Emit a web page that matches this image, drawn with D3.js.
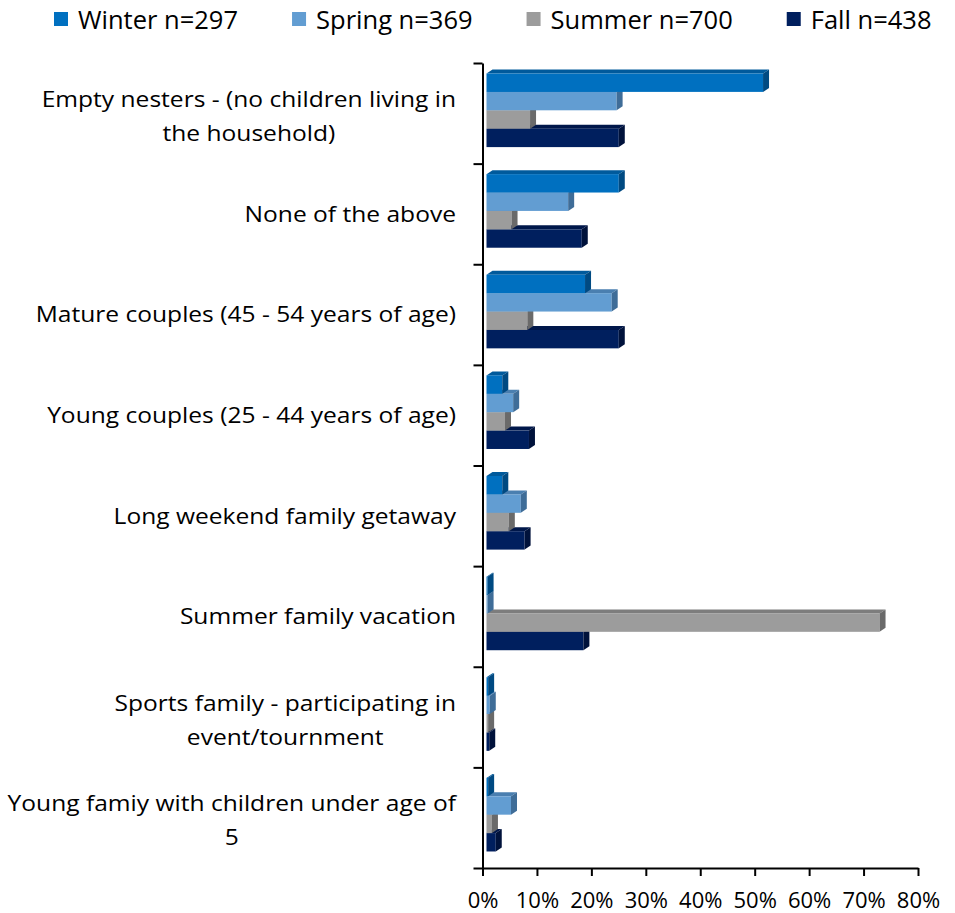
<!DOCTYPE html>
<html>
<head>
<meta charset="utf-8">
<script src="https://cdn.jsdelivr.net/npm/d3@7"></script>
<style>
  body { margin: 0; background: #fff; }
  svg { display: block; font-family: "Open Sans", sans-serif; }
</style>
</head>
<body>
<div id="chart"></div>
<script>
// category labels, already broken into lines as in the original
var categoryLines = [
    ["Empty nesters - (no children living in", "the household)"],
    ["None of the above"],
    ["Mature couples (45 - 54 years of age)"],
    ["Young couples (25 - 44 years of age)"],
    ["Long weekend family getaway"],
    ["Summer family vacation"],
    ["Sports family - participating in", "event/tournment"],
    ["Young famiy with children under age of", "5"]
];
var categories = categoryLines.map(function(l) { return l.join(" "); });

var seasons = ["Winter n=297", "Spring n=369", "Summer n=700", "Fall n=438"];

// percent of respondents
var winter = [50.8, 24.3, 18.1, 2.9, 2.9, 0.2, 0.3, 0.3];
var spring = [23.9, 15.0, 23.0, 4.9, 6.3, 0.2, 0.6, 4.5];
var summer = [8.0, 4.6, 7.5, 3.4, 4.1, 72.2, 0.3, 1.0];
var fall   = [24.3, 17.5, 24.3, 7.8, 7.0, 17.8, 0.5, 1.7];

var xTicks = [0, 10, 20, 30, 40, 50, 60, 70, 80];

var seriesValues = [winter, spring, summer, fall];
var front = ["#0070c0", "#629dd2", "#9c9c9c", "#001f5e"];
var top_  = ["#005a9c", "#4a7fb0", "#7d7d7d", "#00174a"];
var side  = ["#004a82", "#3f6d98", "#6a6a6a", "#00123b"];

var width = 955, height = 913;
var svg = d3.select("#chart").append("svg")
    .attr("width", width)
    .attr("height", height);

// scales
var x = d3.scaleLinear().domain([0, 80]).range([482.5, 918]);
var y = d3.scaleBand().domain(categories).range([63, 868]);
var ySub = d3.scaleBand().domain(seasons).range([0, 73.6]);
var yIdx = d3.scaleLinear().domain([0, categories.length]).range([63, 868]);

var depthX = 6, depthY = 4, gap = 4, groupOffset = 10.5;

// bars (drawn bottom series first so upper fronts cover lower top faces)
var bars = svg.append("g");
categories.forEach(function(c, ci) {
    for (var si = seasons.length - 1; si >= 0; si--) {
        var v = seriesValues[si][ci];
        var x0 = x(0) + gap, x1 = x(v) + gap;
        var y0 = y(c) + groupOffset + ySub(seasons[si]);
        var h = ySub.bandwidth();
        var g = bars.append("g");
        g.append("polygon")
            .attr("points", [[x0, y0], [x0 + depthX, y0 - depthY], [x1 + depthX, y0 - depthY], [x1, y0]].join(" "))
            .attr("fill", top_[si]);
        g.append("rect")
            .attr("x", x0).attr("y", y0)
            .attr("width", x1 - x0).attr("height", h)
            .attr("fill", front[si]);
        g.append("polygon")
            .attr("points", [[x1, y0], [x1 + depthX, y0 - depthY], [x1 + depthX, y0 + h - depthY], [x1, y0 + h]].join(" "))
            .attr("fill", side[si]);
    }
});

// x axis
var xAxis = svg.append("g")
    .attr("transform", "translate(0,868)")
    .call(d3.axisBottom(x).tickValues(xTicks).tickSize(8).tickSizeOuter(0)
        .tickFormat(function(d) { return d + "%"; }));
xAxis.select(".domain").attr("stroke", "#000").attr("stroke-width", 2);
xAxis.selectAll(".tick line").attr("stroke", "#000").attr("stroke-width", 2);
xAxis.selectAll(".tick text")
    .attr("y", 40).attr("dy", 0)
    .attr("fill", "#000")
    .style("font-size", "22px")
    .style("font-family", "'Open Sans', sans-serif");

// y axis (ticks between categories)
var yAxis = svg.append("g")
    .attr("transform", "translate(482.5,0)")
    .call(d3.axisLeft(yIdx).tickValues(d3.range(categories.length + 1)).tickSize(9).tickSizeOuter(0)
        .tickFormat(""));
yAxis.select(".domain").attr("stroke", "#000").attr("stroke-width", 2);
yAxis.selectAll(".tick line").attr("stroke", "#000").attr("stroke-width", 2);

// category labels
var labelStretch = 1.117, lineHeight = 34;
categoryLines.forEach(function(lines, ci) {
    var c = categories[ci];
    var mid = y(c) + y.bandwidth() / 2;
    var base = lines.length === 1 ? mid + 7.8 : mid - 6.5;
    var g = svg.append("g")
        .attr("transform", "translate(456," + base + ") scale(" + labelStretch + ",1)");
    var texts = lines.map(function(t, li) {
        return g.append("text")
            .attr("y", li * lineHeight)
            .attr("text-anchor", "middle")
            .attr("fill", "#000")
            .style("font-size", "22px")
            .text(t);
    });
    var maxW = d3.max(texts, function(t) { return t.node().getComputedTextLength(); });
    texts.forEach(function(t) { t.attr("x", -maxW / 2); });
});

// legend
var legend = svg.append("g");
var lx = 54;
seasons.forEach(function(s, si) {
    legend.append("rect")
        .attr("x", lx).attr("y", 12)
        .attr("width", 14).attr("height", 14)
        .attr("fill", front[si]);
    var t = legend.append("text")
        .attr("x", lx + 24).attr("y", 29)
        .attr("fill", "#000")
        .style("font-size", "25.5px")
        .text(s);
    lx += 24 + t.node().getComputedTextLength() + 54;
});
</script>
</body>
</html>
